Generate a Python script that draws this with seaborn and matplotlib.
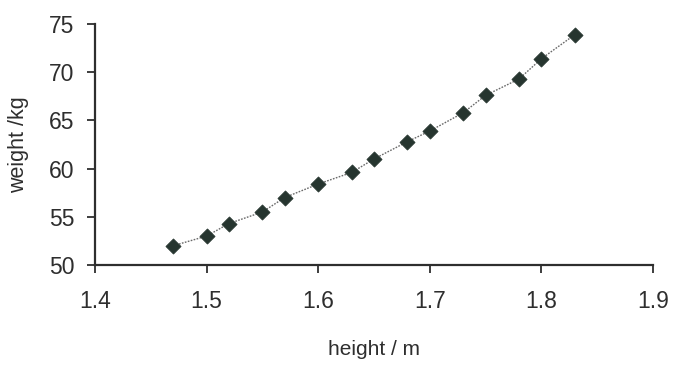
import matplotlib
matplotlib.use("Agg")
import matplotlib.pyplot as plt
import seaborn as sns
import pandas as pd

# height / weight readings, taken off the scanned chart
height = [1.47, 1.50, 1.52, 1.55, 1.57, 1.60, 1.63, 1.65, 1.68, 1.70,
          1.73, 1.75, 1.78, 1.80, 1.83]
weight = [52.0, 53.0, 54.3, 55.5, 57.0, 58.4, 59.6, 61.0, 62.8, 63.9,
          65.8, 67.6, 69.3, 71.4, 73.9]

x_ticks = [1.4, 1.5, 1.6, 1.7, 1.8, 1.9]
y_ticks = [50, 55, 60, 65, 70, 75]

df = pd.DataFrame({"height": height, "weight": weight})

sns.set_style("ticks")
plt.rcParams["font.family"] = ["Liberation Sans", "DejaVu Sans"]

ink = "#2e2e2e"

fig = plt.figure(figsize=(6.75, 3.69), dpi=100)
ax = fig.add_axes([0.1407, 0.2818, 0.8267, 0.6531])

# dotted connecting line, then diamond markers on top
sns.lineplot(data=df, x="height", y="weight", ax=ax, color="#6a6a6a",
             linestyle=(0, (1.2, 1.0)), linewidth=1.0)
sns.scatterplot(data=df, x="height", y="weight", ax=ax, marker="D", s=60,
                color="#26352f", edgecolor="#26352f", linewidth=0.5, zorder=3)

ax.set_xlim(1.4, 1.9)
ax.set_ylim(50, 75)
ax.set_xticks(x_ticks)
ax.set_yticks(y_ticks)
ax.set_xticklabels([str(t) for t in x_ticks])
ax.set_yticklabels([str(t) for t in y_ticks])
ax.tick_params(axis="both", labelsize=16.5, colors=ink, length=6,
               width=1.3, direction="out")
ax.tick_params(axis="x", pad=12)
ax.tick_params(axis="y", pad=9)
for s in ["left", "bottom"]:
    ax.spines[s].set_linewidth(1.6)
    ax.spines[s].set_color(ink)
sns.despine(ax=ax)

ax.set_xlabel("height / m", fontsize=15, color=ink)
ax.set_ylabel("weight /kg", fontsize=15.5, color=ink)
ax.xaxis.set_label_coords(0.5, -0.31)
ax.yaxis.set_label_coords(-0.118, 0.5)

fig.savefig("out.png", dpi=100)
